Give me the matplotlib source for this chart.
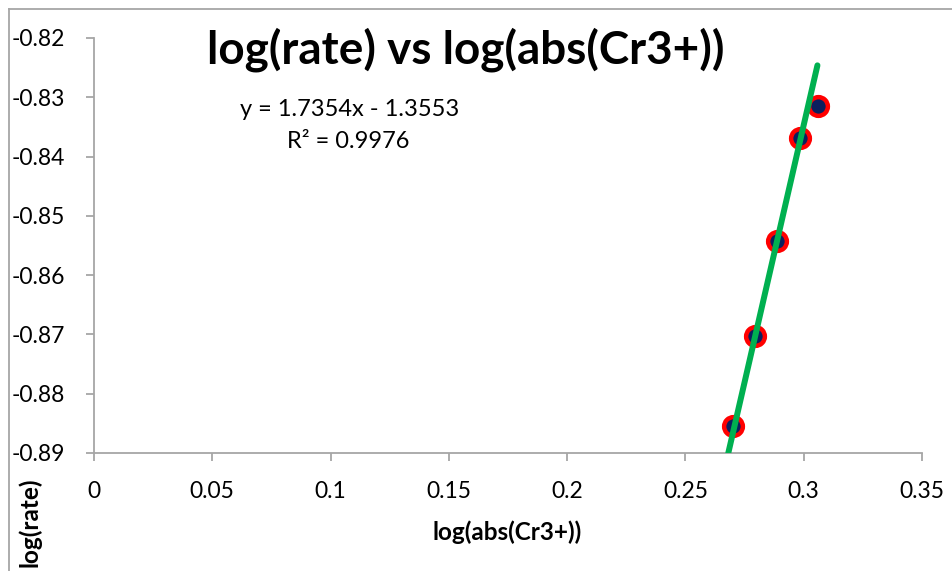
import matplotlib.pyplot as plt
from matplotlib.lines import Line2D

# data
log_abs = [0.2701, 0.2794, 0.2887, 0.2984, 0.3061]
log_rate = [-0.8855, -0.8702, -0.8542, -0.8369, -0.8315]

# Excel linear trendline
slope = 1.7354
intercept = -1.3553
r_squared = 0.9976
trend_x = [0.2681, 0.3058]

x_ticks = [0, 0.05, 0.1, 0.15, 0.2, 0.25, 0.3, 0.35]
y_ticks = [-0.89, -0.88, -0.87, -0.86, -0.85, -0.84, -0.83, -0.82]

plt.rcParams['font.family'] = ['Lato', 'DejaVu Sans']

fig = plt.figure(figsize=(9.52, 5.71), dpi=100)
ax = fig.add_axes([94 / 952, 1 - 453 / 571, 828 / 952, 415 / 571])

ax.plot(log_abs, log_rate, 'o', ms=13.5, mfc='#0b1f5e', mec='#ff0000', mew=3.2, zorder=2)
trend_y = [slope * x + intercept for x in trend_x]
ax.plot(trend_x, trend_y, color='#00b050', lw=4.3, solid_capstyle='round', zorder=3)

ax.set_xlim(0, 0.35)
ax.set_ylim(-0.89, -0.82)
ax.set_xticks(x_ticks)
ax.set_xticklabels([f'{t:g}' for t in x_ticks])
ax.set_yticks(y_ticks)
ax.set_yticklabels([f'{t:g}' for t in y_ticks])

for side in ['top', 'right']:
    ax.spines[side].set_visible(False)
for side in ['left', 'bottom']:
    ax.spines[side].set_color('#a6a6a6')
    ax.spines[side].set_linewidth(1.3)
ax.tick_params(axis='both', colors='#a6a6a6', length=6, width=1.3, labelcolor='black', labelsize=16.5)
ax.tick_params(axis='y', pad=15)
ax.tick_params(axis='x', pad=14)

fig.text(466 / 952, 1 - 50 / 571, 'log(rate) vs log(abs(Cr3+))', fontsize=33, fontweight='bold',
         ha='center', va='center')
fig.text(350 / 952, 1 - 110 / 571, f'y = {slope}x - {abs(intercept)}', fontsize=17,
         ha='center', va='center')
fig.text(348 / 952, 1 - 142 / 571, f'R² = {r_squared}', fontsize=17, ha='center', va='center')
fig.text(507 / 952, 1 - 532 / 571, 'log(abs(Cr3+))', fontsize=17.5, fontweight='bold',
         ha='center', va='center')
fig.text(30 / 952, 1 - 522 / 571, 'log(rate)', fontsize=17.5, fontweight='bold', rotation=90,
         ha='center', va='center')

# chart area border (cut off at right and bottom)
fig.add_artist(Line2D([9 / 952, 9 / 952], [0, 1 - 9 / 571], color='#a6a6a6', lw=1.3))
fig.add_artist(Line2D([9 / 952, 1], [1 - 9 / 571, 1 - 9 / 571], color='#a6a6a6', lw=1.3))

fig.savefig('out.png', dpi=100)
